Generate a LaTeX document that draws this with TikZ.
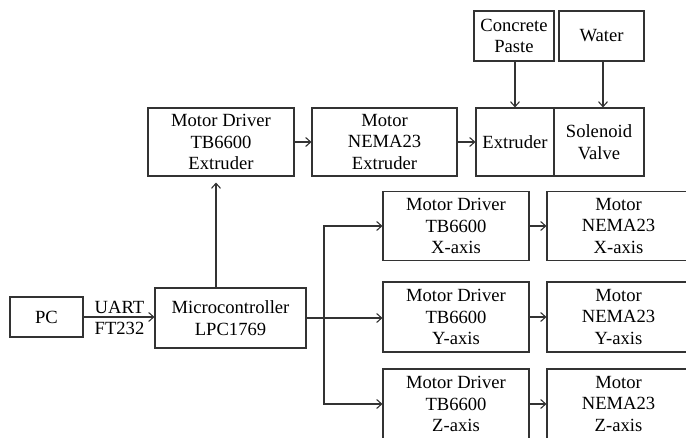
\documentclass[tikz,border=0pt]{standalone}
\usepackage{fontspec}
\setmainfont{Liberation Serif}
\usetikzlibrary{arrows.meta,calc}
\begin{document}
\begin{tikzpicture}[x=1pt,y=-1pt,
  blk/.style={draw=black!80,line width=1.1pt,align=center,inner sep=0pt,
    font=\fontsize{18.6}{21.5}\selectfont,text=black},
  conn/.style={draw=black!80,line width=1.1pt,-{Straight Barb[length=5pt,width=9pt]}},
  plain/.style={draw=black!80,line width=1.1pt}]
\useasboundingbox (0,0) rectangle (686,438);
\clip (0,0) rectangle (686,438);
\node[blk,minimum width=73pt,minimum height=40pt] (pc) at (46.5,317) {PC};
\node[blk,minimum width=151pt,minimum height=60pt] (mc) at (230.5,318) {Microcontroller\\LPC1769};
\node[blk,minimum width=146pt,minimum height=68pt] (drvE) at (221,142) {Motor Driver\\TB6600\\Extruder};
\node[blk,minimum width=145pt,minimum height=68pt] (motE) at (384.5,142) {Motor\\NEMA23\\Extruder};
\node[blk,minimum width=78pt,minimum height=68pt] (extr) at (515,142) {Extruder};
\node[blk,minimum width=90pt,minimum height=68pt] (valve) at (599,142) {Solenoid\\Valve};
\node[blk,minimum width=80pt,minimum height=50pt] (paste) at (514,36) {Concrete\\Paste};
\node[blk,minimum width=85pt,minimum height=50pt] (water) at (601.5,36) {Water};
\node[blk,minimum width=146pt,minimum height=69pt] (drvX) at (456,226) {Motor Driver\\TB6600\\X-axis};
\node[blk,minimum width=146pt,minimum height=70pt] (drvY) at (456,317) {Motor Driver\\TB6600\\Y-axis};
\node[blk,minimum width=146pt,minimum height=70pt] (drvZ) at (456,404) {Motor Driver\\TB6600\\Z-axis};
\node[blk,minimum width=143pt,minimum height=69pt] (motX) at (618.5,226) {Motor\\NEMA23\\X-axis};
\node[blk,minimum width=143pt,minimum height=70pt] (motY) at (618.5,317) {Motor\\NEMA23\\Y-axis};
\node[blk,minimum width=143pt,minimum height=70pt] (motZ) at (618.5,404) {Motor\\NEMA23\\Z-axis};
\node[align=center,inner sep=0pt,font=\fontsize{18.6}{21.5}\selectfont] (uart) at (119.5,318) {UART\\FT232};
\coordinate (ax) at (216,0);
\coordinate (trunk) at (324,318);
\draw[conn] (pc.east) -- (pc.east -| mc.west);
\draw[conn] (mc.north -| ax) -- ([yshift=-6pt]drvE.south -| ax);
\draw[conn] (drvE.east) -- (motE.west);
\draw[conn] (motE.east) -- (extr.west);
\draw[conn] (paste.south -| extr.north) -- (extr.north);
\draw[conn] (water.south -| 603,0) -- (valve.north -| 603,0);
\draw[plain] (mc.east |- trunk) -- (trunk);
\draw[conn] (trunk) |- (drvX.west);
\draw[conn] (trunk) -- (trunk -| drvY.west);
\draw[conn] (trunk) |- (drvZ.west);
\draw[conn] (drvX.east) -- (motX.west);
\draw[conn] (drvY.east) -- (motY.west);
\draw[conn] (drvZ.east) -- (motZ.west);
\end{tikzpicture}
\end{document}
